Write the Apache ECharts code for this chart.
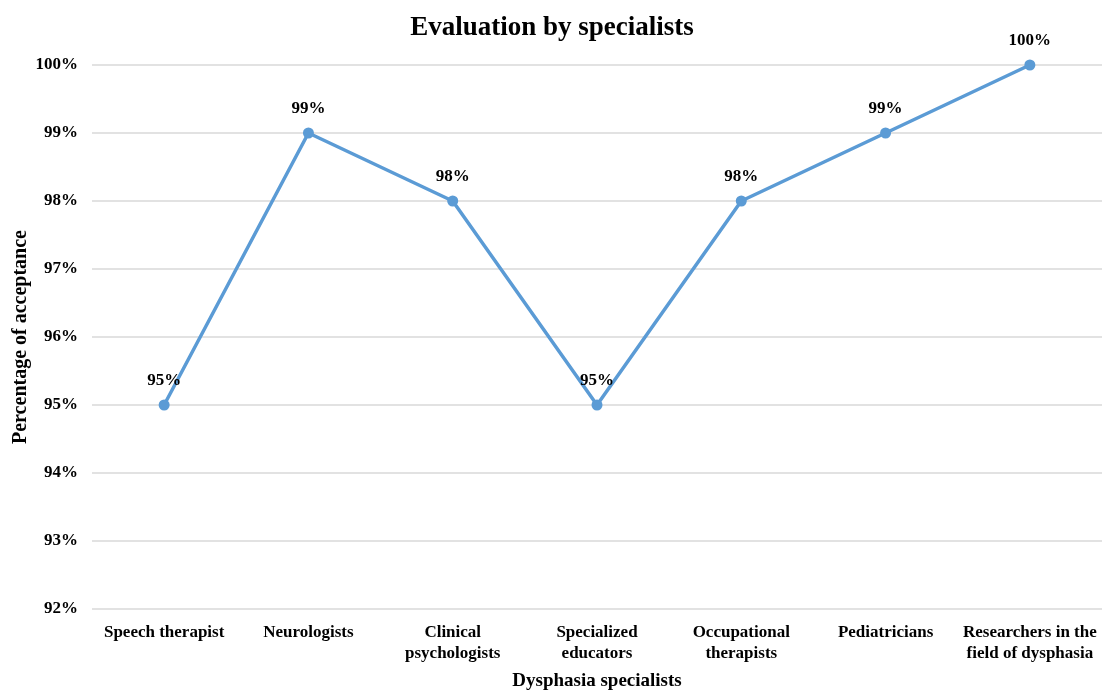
<!DOCTYPE html>
<html>
<head>
<meta charset="utf-8">
<script src="https://cdn.jsdelivr.net/npm/echarts@6/dist/echarts.min.js"></script>
<style>
  html, body { margin: 0; padding: 0; background: #fff; }
  #chart { width: 1104px; height: 693px; }
</style>
</head>
<body>
<div id="chart"></div>
<script>
// Specialist groups and their acceptance rate (%)
const categories = [
  'Speech therapist',
  'Neurologists',
  'Clinical\npsychologists',
  'Specialized\neducators',
  'Occupational\ntherapists',
  'Pediatricians',
  'Researchers in the\nfield of dysphasia'
];
const acceptance = [95, 99, 98, 95, 98, 99, 100];

const serif = '"Liberation Serif", "Times New Roman", serif';
const chart = echarts.init(document.getElementById('chart'));

chart.setOption({
  backgroundColor: '#ffffff',
  title: {
    text: 'Evaluation by specialists',
    left: 'center',
    top: 10,
    textStyle: { fontFamily: serif, fontWeight: 'bold', fontSize: 27, color: '#000' }
  },
  grid: { left: 92, right: 2, top: 65, bottom: 84, containLabel: false, outerBoundsMode: 'none' },
  xAxis: {
    type: 'category',
    data: categories,
    boundaryGap: true,
    name: 'Dysphasia specialists',
    nameLocation: 'middle',
    nameGap: 63,
    nameMoveOverlap: false,
    nameTextStyle: { fontFamily: serif, fontWeight: 'bold', fontSize: 19, color: '#000' },
    axisLine: { show: false },
    axisTick: { show: false },
    axisLabel: {
      interval: 0,
      margin: 13,
      fontFamily: serif, fontWeight: 'bold', fontSize: 17, color: '#000',
      lineHeight: 21
    }
  },
  yAxis: {
    type: 'value',
    min: 92,
    max: 100,
    interval: 1,
    name: 'Percentage of acceptance',
    nameLocation: 'middle',
    nameGap: 61,
    nameMoveOverlap: false,
    nameTextStyle: { fontFamily: serif, fontWeight: 'bold', fontSize: 20, color: '#000' },
    axisLine: { show: false },
    axisTick: { show: false },
    splitLine: { lineStyle: { color: '#d9d9d9', width: 1.5 } },
    axisLabel: {
      margin: 14,
      fontFamily: serif, fontWeight: 'bold', fontSize: 17, color: '#000',
      formatter: v => v + '%'
    }
  },
  series: [{
    type: 'line',
    data: acceptance,
    symbol: 'circle',
    symbolSize: 11,
    lineStyle: { color: '#5b9bd5', width: 3.5 },
    itemStyle: { color: '#5b9bd5' },
    label: {
      show: true,
      position: 'top',
      distance: 10,
      fontFamily: serif, fontWeight: 'bold', fontSize: 17, color: '#000',
      formatter: p => p.value + '%'
    },
    animation: false
  }]
});
</script>
</body>
</html>
